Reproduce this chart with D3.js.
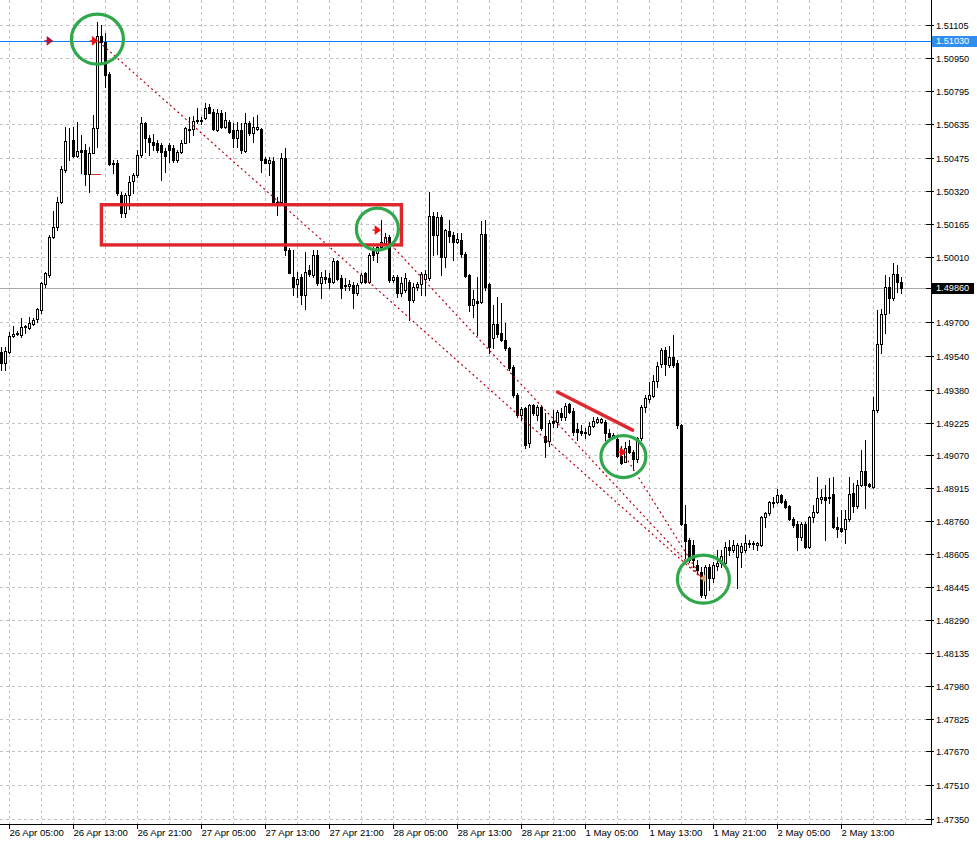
<!DOCTYPE html>
<html><head><meta charset="utf-8">
<script src="https://cdn.jsdelivr.net/npm/d3@7"></script>
<style>body{margin:0;background:#fff;overflow:hidden;} svg{display:block;}</style>
</head><body>
<svg id="chart" width="977" height="842"></svg>
<script>
// ---- Data: M30 candles (26 Apr 04:00 -> 2 May 16:30), prices ----
const open = [
1.49558,1.49506,1.49558,1.49634,1.49648,1.49638,1.49676,1.49672,1.49691,1.49714,
1.49757,1.49880,1.49922,1.50102,1.50149,1.50268,1.50419,1.50556,1.50561,1.50485,
1.50514,1.50514,1.50400,1.50499,1.50618,1.51053,1.51024,1.50873,1.50452,1.50452,
1.50301,1.50216,1.50301,1.50367,1.50395,1.50490,1.50641,1.50570,1.50551,1.50547,
1.50537,1.50509,1.50537,1.50523,1.50466,1.50504,1.50547,1.50608,1.50613,1.50651,
1.50651,1.50665,1.50717,1.50693,1.50608,1.50689,1.50622,1.50646,1.50608,1.50570,
1.50608,1.50509,1.50641,1.50594,1.50613,1.50613,1.50471,1.50452,1.50462,1.50268,
1.50268,1.50476,1.50041,1.49913,1.49880,1.49913,1.49828,1.49946,1.49922,1.50017,
1.49884,1.49913,1.49908,1.49889,1.49989,1.49908,1.49875,1.49870,1.49875,1.49837,
1.49889,1.49932,1.49889,1.50041,1.50026,1.50055,1.50074,1.50102,1.49899,1.49913,
1.49837,1.49851,1.49889,1.49804,1.49866,1.49880,1.49903,1.49908,1.50201,1.50111,
1.50197,1.50007,1.50130,1.50111,1.50078,1.50088,1.50022,1.49922,1.49780,1.49799,
1.49795,1.50116,1.49880,1.49624,1.49691,1.49648,1.49615,1.49577,1.49487,1.49355,
1.49260,1.49293,1.49128,1.49307,1.49260,1.49298,1.49161,1.49137,1.49232,1.49227,
1.49270,1.49251,1.49312,1.49279,1.49194,1.49184,1.49175,1.49170,1.49208,1.49227,
1.49227,1.49227,1.49175,1.49156,1.49147,1.49066,1.49038,1.49113,1.49085,1.49052,
1.49151,1.49298,1.49336,1.49350,1.49421,1.49501,1.49568,1.49497,1.49534,1.49506,
1.49213,1.48745,1.48669,1.48645,1.48551,1.48517,1.48409,1.48541,1.48489,1.48546,
1.48560,1.48560,1.48636,1.48622,1.48588,1.48612,1.48622,1.48650,1.48655,1.48645,
1.48645,1.48778,1.48797,1.48844,1.48849,1.48882,1.48853,1.48830,1.48768,1.48745,
1.48683,1.48745,1.48636,1.48778,1.48801,1.48863,1.48872,1.48868,1.48886,1.48730,
1.48726,1.48721,1.48768,1.48891,1.48830,1.48929,1.48995,1.48934,1.48920,1.49284,
1.49596,1.49738,1.49866,1.49814,1.49927,1.49889];
const high = [
1.49582,1.49582,1.49653,1.49681,1.49657,1.49719,1.49686,1.49724,1.49719,1.49766,
1.49889,1.49936,1.50111,1.50225,1.50291,1.50438,1.50622,1.50618,1.50622,1.50646,
1.50584,1.50542,1.50528,1.50679,1.51119,1.51105,1.51067,1.50882,1.50466,1.50466,
1.50315,1.50310,1.50391,1.50405,1.50514,1.50670,1.50646,1.50584,1.50589,1.50561,
1.50547,1.50523,1.50547,1.50537,1.50514,1.50561,1.50622,1.50670,1.50674,1.50712,
1.50670,1.50736,1.50731,1.50707,1.50707,1.50703,1.50693,1.50655,1.50641,1.50646,
1.50641,1.50689,1.50651,1.50670,1.50679,1.50618,1.50480,1.50480,1.50480,1.50291,
1.50499,1.50523,1.50050,1.50041,1.49936,1.49927,1.50031,1.49970,1.50041,1.50041,
1.49936,1.49946,1.49932,1.50003,1.49993,1.49922,1.49908,1.49899,1.49889,1.49884,
1.49932,1.49936,1.50026,1.50055,1.50064,1.50182,1.50121,1.50111,1.49922,1.49922,
1.49913,1.49932,1.49899,1.49884,1.49889,1.49936,1.49946,1.50315,1.50220,1.50220,
1.50206,1.50140,1.50182,1.50126,1.50121,1.50121,1.50031,1.49927,1.49851,1.49913,
1.50178,1.50182,1.49884,1.49780,1.49818,1.49790,1.49695,1.49582,1.49497,1.49364,
1.49298,1.49298,1.49312,1.49312,1.49307,1.49307,1.49270,1.49236,1.49284,1.49284,
1.49293,1.49317,1.49317,1.49293,1.49222,1.49213,1.49199,1.49227,1.49251,1.49251,
1.49246,1.49236,1.49194,1.49175,1.49151,1.49113,1.49132,1.49142,1.49095,1.49156,
1.49307,1.49355,1.49416,1.49449,1.49511,1.49577,1.49582,1.49586,1.49638,1.49520,
1.49218,1.48834,1.48678,1.48669,1.48574,1.48541,1.48551,1.48555,1.48565,1.48622,
1.48622,1.48659,1.48669,1.48669,1.48655,1.48655,1.48692,1.48669,1.48664,1.48659,
1.48782,1.48801,1.48853,1.48872,1.48910,1.48886,1.48863,1.48834,1.48778,1.48759,
1.48754,1.48754,1.48782,1.48834,1.48967,1.48910,1.48929,1.48962,1.48967,1.48778,
1.48811,1.48811,1.48967,1.48938,1.48953,1.49095,1.49142,1.48938,1.49345,1.49757,
1.49761,1.49922,1.49913,1.49979,1.49970,1.49913];
const low = [
1.49473,1.49473,1.49553,1.49629,1.49638,1.49629,1.49648,1.49667,1.49686,1.49700,
1.49743,1.49866,1.49913,1.50097,1.50135,1.50263,1.50409,1.50466,1.50480,1.50480,
1.50405,1.50348,1.50315,1.50499,1.50528,1.50925,1.50812,1.50443,1.50405,1.50301,
1.50197,1.50197,1.50234,1.50310,1.50386,1.50480,1.50504,1.50490,1.50514,1.50504,
1.50372,1.50409,1.50457,1.50457,1.50457,1.50499,1.50547,1.50551,1.50584,1.50641,
1.50637,1.50660,1.50689,1.50608,1.50603,1.50618,1.50618,1.50594,1.50528,1.50528,
1.50499,1.50504,1.50584,1.50551,1.50608,1.50409,1.50452,1.50395,1.50263,1.50206,
1.50263,1.50017,1.49932,1.49828,1.49818,1.49785,1.49761,1.49918,1.49913,1.49875,
1.49814,1.49884,1.49861,1.49884,1.49899,1.49814,1.49851,1.49851,1.49766,1.49828,
1.49884,1.49884,1.49884,1.49993,1.49984,1.50041,1.50064,1.49889,1.49889,1.49818,
1.49823,1.49842,1.49709,1.49795,1.49851,1.49828,1.49828,1.49899,1.50017,1.50022,
1.49922,1.49960,1.50078,1.49993,1.50074,1.50007,1.49913,1.49752,1.49724,1.49638,
1.49790,1.49851,1.49553,1.49577,1.49629,1.49610,1.49568,1.49473,1.49345,1.49251,
1.49236,1.49104,1.49109,1.49260,1.49236,1.49189,1.49061,1.49113,1.49203,1.49203,
1.49236,1.49236,1.49270,1.49165,1.49142,1.49165,1.49151,1.49165,1.49203,1.49222,
1.49222,1.49142,1.49142,1.49151,1.49061,1.49028,1.49038,1.49080,1.49000,1.49038,
1.49142,1.49274,1.49322,1.49345,1.49393,1.49487,1.49449,1.49487,1.49487,1.49199,
1.48740,1.48584,1.48565,1.48541,1.48513,1.48399,1.48395,1.48432,1.48470,1.48527,
1.48541,1.48551,1.48598,1.48612,1.48442,1.48541,1.48612,1.48636,1.48626,1.48622,
1.48640,1.48730,1.48787,1.48825,1.48844,1.48844,1.48820,1.48763,1.48730,1.48622,
1.48669,1.48631,1.48631,1.48754,1.48797,1.48844,1.48669,1.48844,1.48726,1.48683,
1.48707,1.48655,1.48759,1.48801,1.48820,1.48924,1.48820,1.48920,1.48915,1.49274,
1.49553,1.49648,1.49743,1.49804,1.49842,1.49837];
const close = [
1.49506,1.49563,1.49634,1.49643,1.49643,1.49676,1.49681,1.49695,1.49709,1.49761,
1.49884,1.49932,1.50102,1.50149,1.50268,1.50424,1.50556,1.50556,1.50485,1.50509,
1.50504,1.50400,1.50499,1.50618,1.51053,1.51024,1.50868,1.50447,1.50447,1.50310,
1.50216,1.50301,1.50362,1.50395,1.50490,1.50641,1.50570,1.50551,1.50537,1.50514,
1.50504,1.50485,1.50514,1.50466,1.50504,1.50547,1.50618,1.50613,1.50651,1.50655,
1.50655,1.50712,1.50689,1.50613,1.50689,1.50622,1.50655,1.50599,1.50570,1.50608,
1.50514,1.50641,1.50594,1.50622,1.50622,1.50466,1.50452,1.50466,1.50268,1.50263,
1.50476,1.50041,1.49932,1.49866,1.49903,1.49828,1.49936,1.49927,1.50017,1.49884,
1.49913,1.49903,1.49889,1.49989,1.49903,1.49861,1.49870,1.49880,1.49837,1.49875,
1.49922,1.49889,1.50017,1.50017,1.50055,1.50078,1.50102,1.49899,1.49913,1.49837,
1.49884,1.49908,1.49804,1.49866,1.49880,1.49927,1.49927,1.50201,1.50111,1.50197,
1.50007,1.50135,1.50107,1.50078,1.50093,1.50022,1.49918,1.49780,1.49809,1.49790,
1.50116,1.49866,1.49582,1.49691,1.49643,1.49615,1.49577,1.49482,1.49355,1.49260,
1.49288,1.49118,1.49307,1.49270,1.49298,1.49199,1.49132,1.49222,1.49222,1.49274,
1.49251,1.49303,1.49274,1.49180,1.49180,1.49175,1.49180,1.49208,1.49232,1.49241,
1.49241,1.49175,1.49156,1.49165,1.49066,1.49033,1.49104,1.49085,1.49052,1.49151,
1.49298,1.49341,1.49355,1.49421,1.49492,1.49568,1.49501,1.49534,1.49497,1.49213,
1.48745,1.48664,1.48574,1.48574,1.48527,1.48409,1.48541,1.48489,1.48551,1.48560,
1.48593,1.48636,1.48622,1.48645,1.48645,1.48640,1.48655,1.48655,1.48650,1.48655,
1.48778,1.48797,1.48849,1.48849,1.48882,1.48849,1.48825,1.48768,1.48740,1.48683,
1.48745,1.48636,1.48778,1.48801,1.48868,1.48872,1.48858,1.48872,1.48730,1.48721,
1.48711,1.48768,1.48886,1.48830,1.48929,1.48995,1.48929,1.48924,1.49284,1.49596,
1.49738,1.49866,1.49814,1.49927,1.49889,1.49860];

// time axis labels and the bar index each one belongs to
const timeTickLabels = ["26 Apr 05:00","26 Apr 13:00","26 Apr 21:00","27 Apr 05:00","27 Apr 13:00",
  "27 Apr 21:00","28 Apr 05:00","28 Apr 13:00","28 Apr 21:00","1 May 05:00","1 May 13:00",
  "1 May 21:00","2 May 05:00","2 May 13:00"];
const timeTickBars = [2,18,34,50,66,82,98,114,130,146,162,178,194,210];

// price axis labels
const priceTicks = [1.51105,1.50950,1.50795,1.50635,1.50475,1.50320,1.50165,1.50010,1.49860,
  1.49700,1.49540,1.49380,1.49225,1.49070,1.48915,1.48760,1.48605,1.48445,1.48290,1.48135,
  1.47980,1.47825,1.47670,1.47510,1.47350];

// horizontal levels
const userLevel = 1.51030;   // blue horizontal line
const bidLevel = 1.49860;    // current price

// annotations, in (bar index, price)
const rectZone = {bar0: 25.1, bar1: 100.1, pTop: 1.50255, pBot: 1.50065};
const trendLine = {bar0: 139.1, p0: 1.49369, bar1: 157.9, p1: 1.49189};
const fanLines = [
  {bar0: 24.5, p0: 1.51025, bar1: 175.2, p1: 1.48489},
  {bar0: 94.1, p0: 1.50135, bar1: 175.2, p1: 1.48489},
  {bar0: 155.4, p0: 1.49085, bar1: 175.2, p1: 1.48489}
];
const circles = [
  {bar: 24.1, p: 1.51038}, {bar: 94.1, p: 1.50140},
  {bar: 155.6, p: 1.49064}, {bar: 175.6, p: 1.48484}
];
const arrowMarks = [
  {bar: 12.1, p: 1.51030, dark: true}, {bar: 23.4, p: 1.51030, dark: false},
  {bar: 94.1, p: 1.50135, dark: false}, {bar: 155.4, p: 1.49085, dark: false}
];
const stopMark = {bar: 175.4, p: 1.48489};
const shortDash = {bar0: 22.6, bar1: 24.9, p: 1.50400};

// ---- Drawing ----
const plotRight = 931, plotBottom = 824;
const n = open.length;
const svg = d3.select("#chart");
const x = d3.scaleLinear().domain([0, 1]).range([1, 5]);
const y = d3.scaleLinear().domain([1.47350, 1.51105]).range([819, 25]);
const cx = v => Math.round(x(v)) + 0.5;
const cy = v => Math.round(y(v)) + 0.5;
const FONT = "'Liberation Sans', Arial, sans-serif";

// grid
const grid = svg.append("g").attr("stroke", "#c3c3c3").attr("stroke-dasharray", "3,3")
  .attr("shape-rendering", "crispEdges");
grid.selectAll("line.h").data(priceTicks).join("line").attr("class", "h")
  .attr("x1", 0).attr("x2", plotRight).attr("y1", d => cy(d)).attr("y2", d => cy(d));
grid.selectAll("line.v").data(d3.range(2, 230, 8)).join("line").attr("class", "v")
  .attr("x1", d => cx(d)).attr("x2", d => cx(d)).attr("y1", 0).attr("y2", plotBottom);

// levels
svg.append("line").attr("x1", 0).attr("x2", plotRight).attr("y1", cy(bidLevel)).attr("y2", cy(bidLevel))
  .attr("stroke", "#a8a8a8").attr("shape-rendering", "crispEdges");
svg.append("line").attr("x1", 0).attr("x2", plotRight).attr("y1", cy(userLevel)).attr("y2", cy(userLevel))
  .attr("stroke", "#0a7df5").attr("shape-rendering", "crispEdges");

// candles
const bars = d3.range(n).map(i => ({i, o: open[i], h: high[i], l: low[i], c: close[i]}));
const cg = svg.append("g").attr("shape-rendering", "crispEdges");
cg.selectAll("line").data(bars).join("line")
  .attr("x1", d => cx(d.i)).attr("x2", d => cx(d.i))
  .attr("y1", d => Math.round(y(d.h))).attr("y2", d => Math.round(y(d.l)) + 1)
  .attr("stroke", "#000");
cg.selectAll("rect").data(bars).join("rect")
  .attr("x", d => cx(d.i) - 1).attr("width", 2)
  .attr("y", d => Math.min(cy(d.o), cy(d.c)))
  .attr("height", d => Math.abs(cy(d.o) - cy(d.c)))
  .attr("fill", d => d.c >= d.o ? "#fff" : "#000")
  .attr("stroke", "#000");

// annotations
const ann = svg.append("g");
ann.selectAll("line.fan").data(fanLines).join("line").attr("class", "fan")
  .attr("x1", d => x(d.bar0)).attr("y1", d => y(d.p0)).attr("x2", d => x(d.bar1)).attr("y2", d => y(d.p1))
  .attr("stroke", "#b80010").attr("stroke-width", 1.2).attr("stroke-dasharray", "2,3");
ann.append("rect")
  .attr("x", x(rectZone.bar0)).attr("y", y(rectZone.pTop))
  .attr("width", x(rectZone.bar1) - x(rectZone.bar0)).attr("height", y(rectZone.pBot) - y(rectZone.pTop))
  .attr("fill", "none").attr("stroke", "#e0262c").attr("stroke-width", 3.4);
ann.append("line")
  .attr("x1", x(trendLine.bar0)).attr("y1", y(trendLine.p0)).attr("x2", x(trendLine.bar1)).attr("y2", y(trendLine.p1))
  .attr("stroke", "#dc2a30").attr("stroke-width", 3.4).attr("stroke-linecap", "round");
ann.append("line")
  .attr("x1", x(shortDash.bar0)).attr("x2", x(shortDash.bar1)).attr("y1", cy(shortDash.p)).attr("y2", cy(shortDash.p))
  .attr("stroke", "#e0262c").attr("shape-rendering", "crispEdges");
const radii = [[26, 25], [21, 21], [22.5, 21], [26, 24]];
ann.selectAll("ellipse").data(circles).join("ellipse")
  .attr("cx", d => x(d.bar)).attr("cy", d => y(d.p))
  .attr("rx", (d, i) => radii[i][0]).attr("ry", (d, i) => radii[i][1])
  .attr("fill", "none").attr("stroke", "#2fa84b").attr("stroke-width", 3.2);
ann.selectAll("path.arrow").data(arrowMarks).join("path").attr("class", "arrow")
  .attr("d", d => {
    const X = x(d.bar), Y = y(d.p);
    return `M${X-5},${Y} L${X-1},${Y} M${X-2},${Y-3.5} L${X+2.5},${Y} L${X-2},${Y+3.5} Z`;
  })
  .attr("fill", d => d.dark ? "#b0103a" : "#f01010").attr("stroke", d => d.dark ? "#b0103a" : "#f01010")
  .attr("stroke-width", 1.4);
ann.append("path")
  .attr("d", () => {
    const X = x(stopMark.bar), Y = y(stopMark.p);
    return `M${X+3},${Y-4} L${X-3},${Y} L${X+3},${Y+4} Z`;
  })
  .attr("fill", "#d6ad6a");

// axes
const axG = svg.append("g").attr("font-family", FONT);
axG.append("line").attr("x1", plotRight + 0.5).attr("x2", plotRight + 0.5).attr("y1", 0).attr("y2", plotBottom + 1)
  .attr("stroke", "#000").attr("shape-rendering", "crispEdges");
axG.append("line").attr("x1", 0).attr("x2", plotRight + 1).attr("y1", plotBottom + 0.5).attr("y2", plotBottom + 0.5)
  .attr("stroke", "#000").attr("shape-rendering", "crispEdges");

const yRound = y.copy().interpolate(d3.interpolateRound);
const yAxis = d3.axisRight(yRound).tickValues(priceTicks).tickFormat(d3.format(".5f"))
  .tickSizeInner(-5).tickSizeOuter(0).tickPadding(5);
const yg = axG.append("g").attr("transform", `translate(${plotRight},0)`).call(yAxis);
yg.select(".domain").remove();
yg.selectAll("text").attr("font-size", 9.2).attr("font-family", FONT).attr("fill", "#000").attr("dy", "0.34em");
yg.selectAll("line").attr("x2", -5).attr("x1", 3).attr("shape-rendering", "crispEdges");

const xRound = x.copy().interpolate(d3.interpolateRound);
const xAxis = d3.axisBottom(xRound).tickValues(timeTickBars).tickFormat((d, i) => timeTickLabels[i])
  .tickSizeInner(5).tickSizeOuter(0);
const xg = axG.append("g").attr("transform", `translate(0,${plotBottom})`).call(xAxis);
xg.select(".domain").remove();
xg.selectAll("text").attr("text-anchor", "start").attr("x", 0).attr("y", 11.6).attr("dy", "0")
  .attr("font-size", 9.6).attr("font-family", FONT).attr("fill", "#000");
xg.selectAll("line").attr("shape-rendering", "crispEdges");

// price boxes
function priceBox(level, bg, w) {
  const Y = Math.round(y(level));
  axG.append("rect").attr("x", plotRight + 1).attr("y", Y - 5).attr("width", w).attr("height", 11).attr("fill", bg);
  axG.append("text").attr("x", plotRight + 5).attr("y", Y).attr("dy", "0.34em")
    .attr("font-size", 9.2).attr("fill", "#fff").text(d3.format(".5f")(level));
}
priceBox(userLevel, "#2f8ef0", 46);
priceBox(bidLevel, "#000", 42);
</script>
</body></html>
